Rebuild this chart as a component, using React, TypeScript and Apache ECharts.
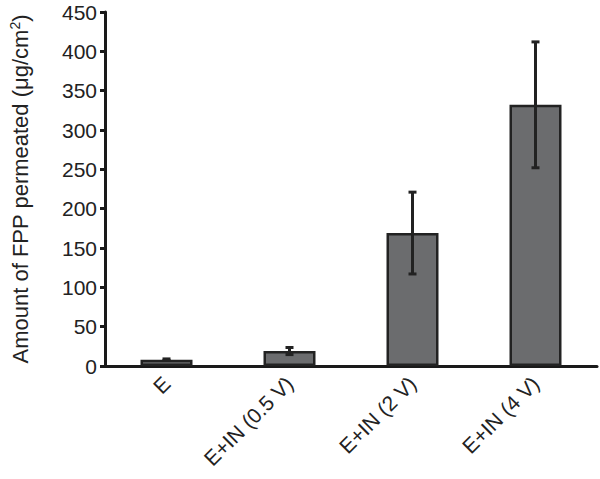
import React, { useEffect, useRef } from "react";
import * as echarts from "echarts";

const categories = ["E", "E+IN (0.5 V)", "E+IN (2 V)", "E+IN (4 V)"];
const means = [8, 19, 169, 332];
const errors = [1, 4.5, 52, 80];
const yTicks = { min: 0, max: 450, interval: 50 };

const FONT = "Liberation Sans, Arial, sans-serif";

export default function App() {
  const ref = useRef<HTMLDivElement>(null);
  useEffect(() => {
    const chart = echarts.init(ref.current!, null, { renderer: "svg" });
    const errData = means.map((m, i) => [i, m - errors[i], m + errors[i]]);
    chart.setOption({
      animation: false,
      grid: { left: 93, right: 3, top: 12, bottom: 113 },
      xAxis: {
        type: "category",
        data: categories,
        axisLine: { lineStyle: { color: "#1a1a1a", width: 3 } },
        axisTick: { show: false },
        axisLabel: {
          rotate: 45,
          color: "#222",
          fontFamily: FONT,
          fontSize: 21,
          margin: 14,
        },
      },
      yAxis: {
        type: "value",
        min: yTicks.min,
        max: yTicks.max,
        interval: yTicks.interval,
        name: "Amount of FPP permeated (μg/cm{sup|2})",
        nameLocation: "middle",
        nameGap: 73,
        nameTextStyle: {
          color: "#222",
          fontFamily: FONT,
          fontSize: 22,
          rich: {
            sup: { fontSize: 14, verticalAlign: "top", padding: [0, 0, 10, 0], color: "#222", fontFamily: FONT },
          },
        },
        splitLine: { show: false },
        axisLine: { show: true, lineStyle: { color: "#1a1a1a", width: 3 } },
        axisTick: { show: true, length: 5, lineStyle: { color: "#1a1a1a", width: 3 } },
        axisLabel: {
          color: "#222",
          fontFamily: FONT,
          fontSize: 21,
          margin: 8,
        },
      },
      series: [
        {
          type: "bar",
          data: means,
          barWidth: 52,
          itemStyle: { color: "#6b6c6e", borderColor: "#222", borderWidth: 2.5 },
          z: 2,
        },
        {
          type: "custom",
          data: errData,
          z: 3,
          renderItem: (params: any, api: any) => {
            const x = api.value(0);
            const lo = api.coord([x, api.value(1)]);
            const hi = api.coord([x, api.value(2)]);
            const cap = 4;
            const style = { stroke: "#222", lineWidth: 3 };
            return {
              type: "group",
              children: [
                { type: "line", shape: { x1: lo[0], y1: lo[1], x2: hi[0], y2: hi[1] }, style },
                { type: "line", shape: { x1: hi[0] - cap, y1: hi[1], x2: hi[0] + cap, y2: hi[1] }, style },
                { type: "line", shape: { x1: lo[0] - cap, y1: lo[1], x2: lo[0] + cap, y2: lo[1] }, style },
              ],
            };
          },
        },
      ],
    });
    return () => chart.dispose();
  }, []);
  return <div ref={ref} style={{ position: "absolute", left: 0, top: 0, width: 600, height: 479 }} />;
}
